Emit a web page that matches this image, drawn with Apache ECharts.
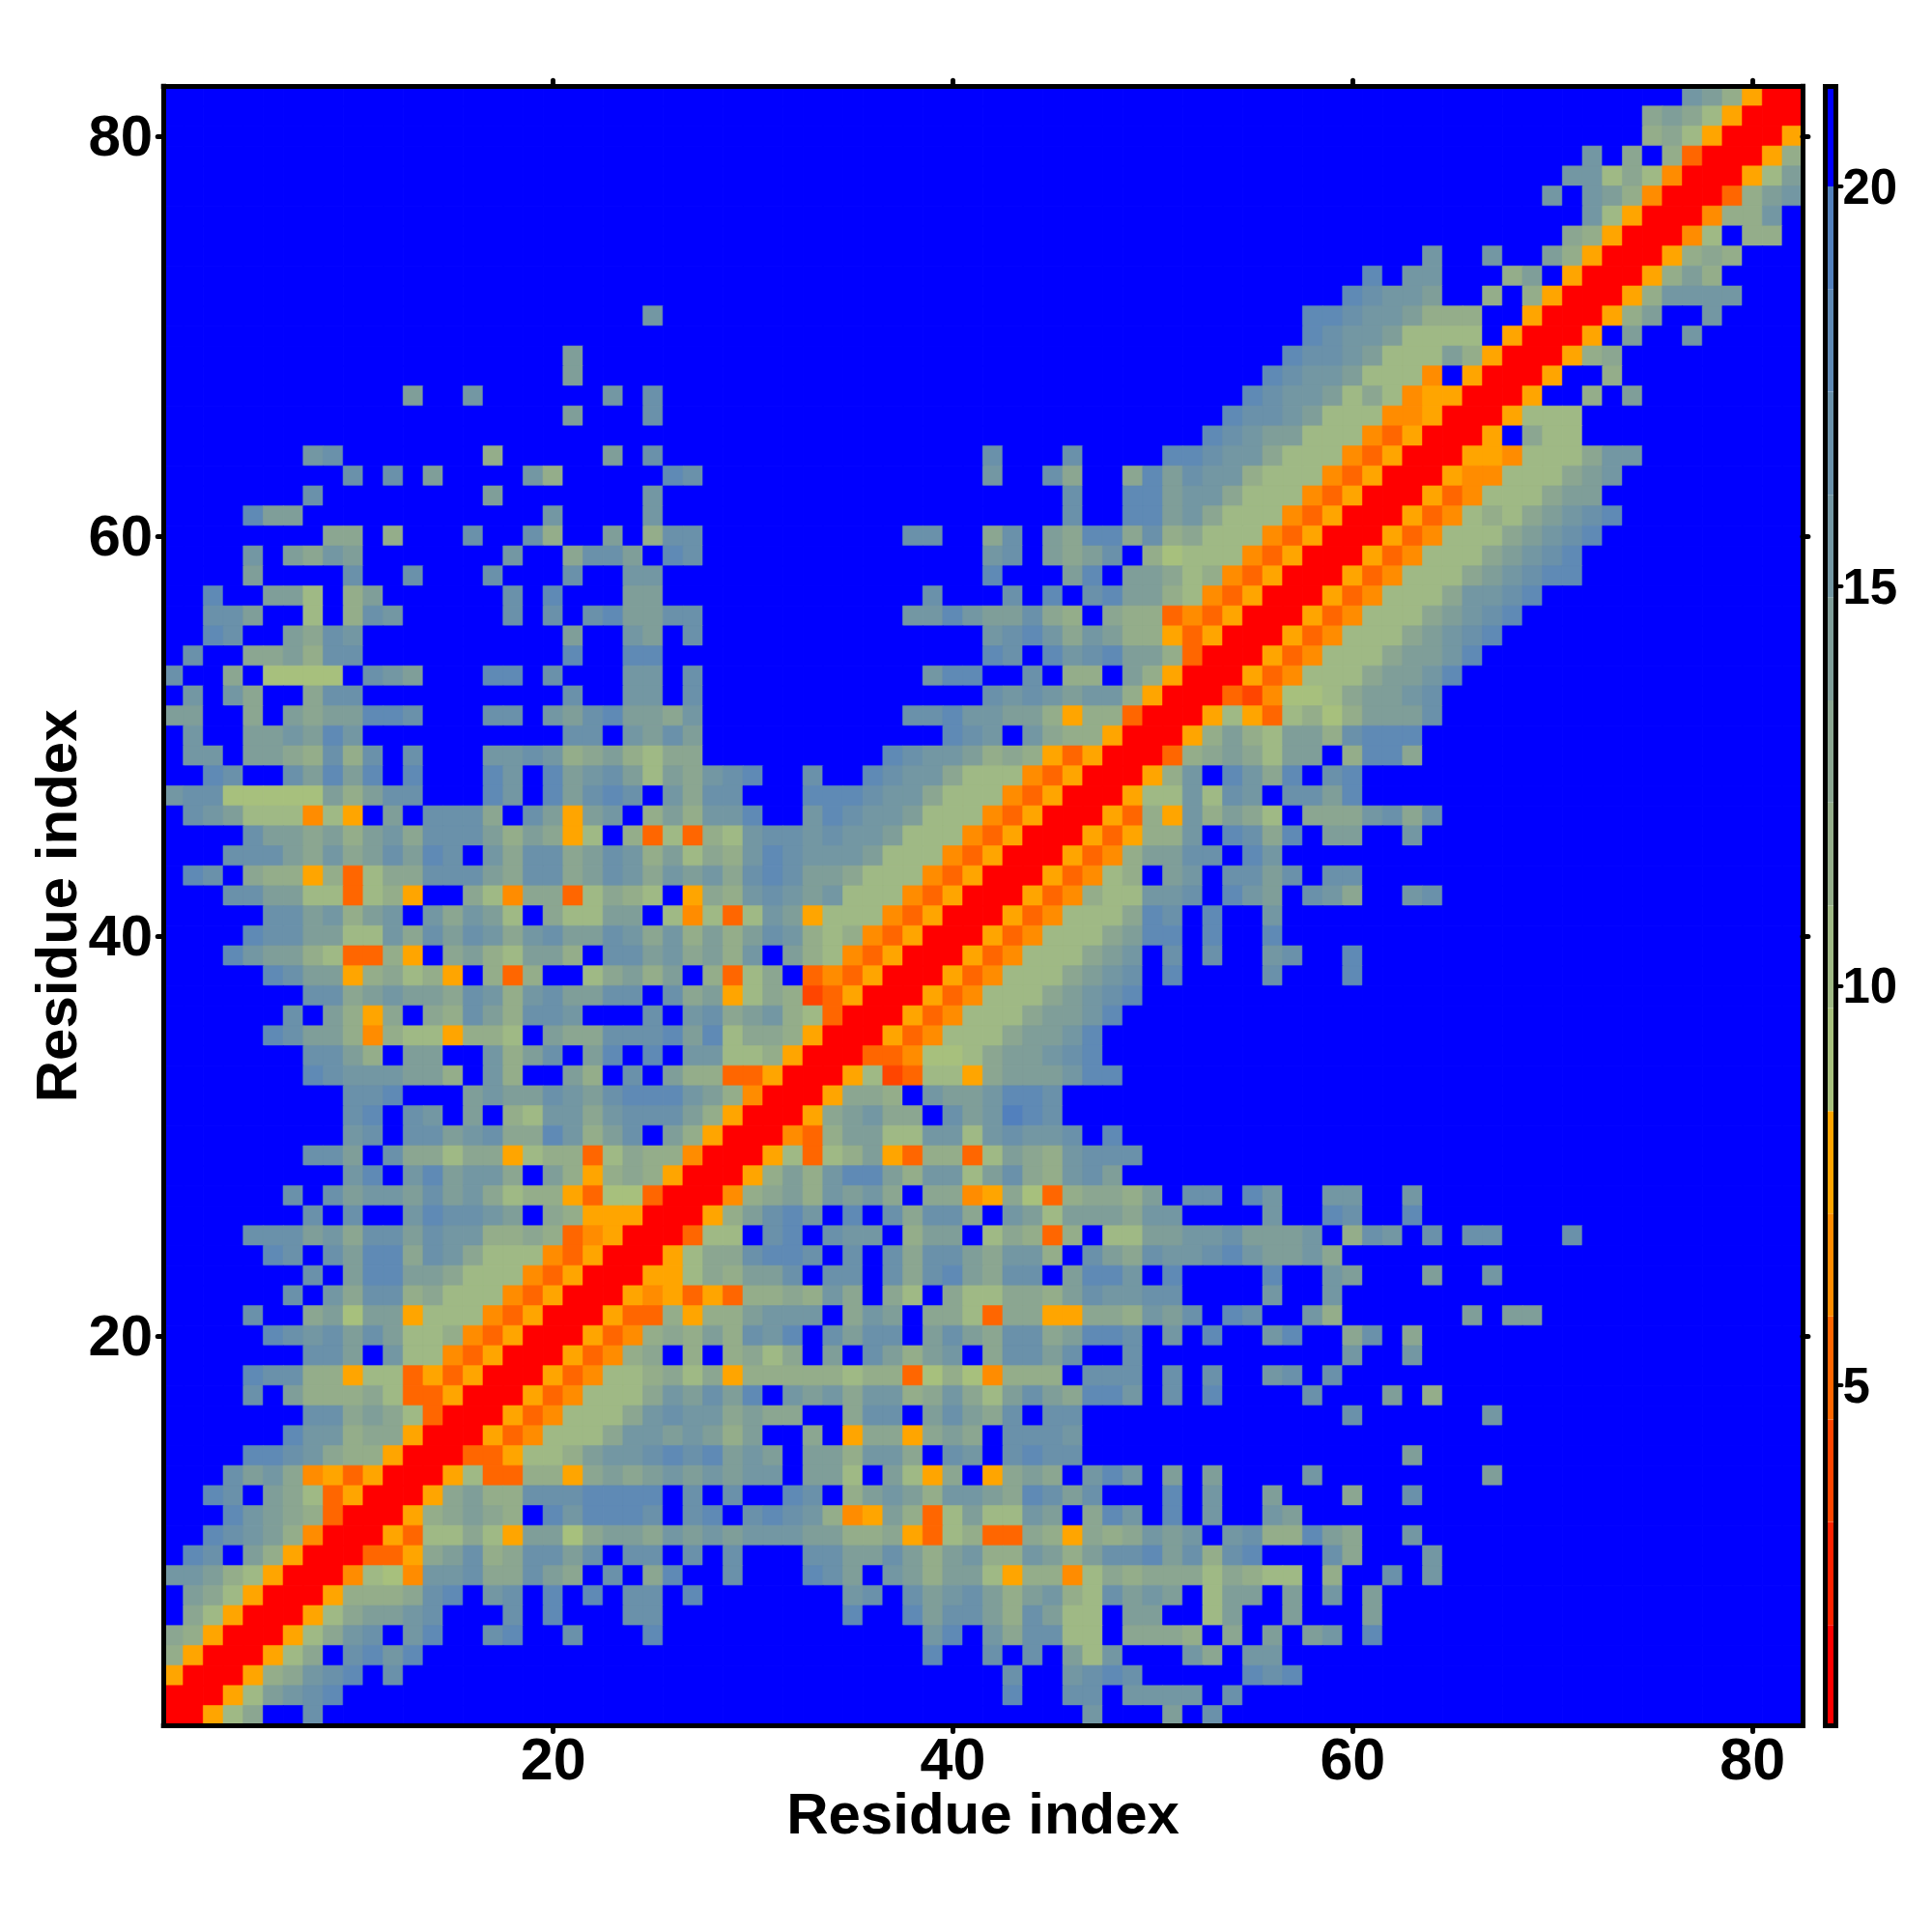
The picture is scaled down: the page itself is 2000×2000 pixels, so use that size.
<!DOCTYPE html>
<html><head><meta charset="utf-8">
<style>html,body{margin:0;padding:0;background:#fff}#c{width:2000px;height:2000px}</style>
<script src="https://cdn.jsdelivr.net/npm/echarts@6/dist/echarts.min.js"></script>
</head><body><div id="c"></div>
<script>
// Distance map: one run-length row per y, from y=82 down to y=1. "start:codes", anything unlisted is the top level.
const rows = [
"77:fec6RR",
"75:dedb6RRR",
"75:cdb6RRR6",
"72:f 74:d 76:c4RRR6c",
"71:ffbdb5RRR6be",
"70:f 72:fec5RRR4cef",
"72:fb6RRR5ccf",
"71:dc6RRR5b 80:cc",
"64:f 67:f 70:ec6RRR6cdc",
"61:h 63:ff 68:ce 71:6RRR6cec",
"60:hgffe 67:c 69:c6RRR6cffff",
"25:f 58:hhgffeccc 69:6RRR6ce 78:f",
"58:hgffebbbb 68:6RRR6 74:e 77:f",
"21:e 57:hggfebbbec6RRR6cd",
"21:e 56:hgffebbb5 66:6RRR6 73:c",
"13:e 16:f 23:f 25:g 55:hgffebdb566RRR6 72:c 74:e",
"21:e 25:g 54:hggfebbb556RRR6bbb",
"53:hgfeebbb546RRR6 69:dbb",
"8:fg 17:c 23:e 25:g 42:g 46:g 51:hhgffdbbb546RRR665bbbdff",
"10:g 12:g 14:e 19:fc 26:hg 42:f 45:gd 49:dhegffcbbb546RRR655bbbdef",
"8:g 17:e 25:f 46:g 49:hheffdbbb546RRR645bbbdee",
"5:hee 20:f 25:f 46:g 49:hhefdbbb546RRR645bcbdefgh",
"9:dd 12:c 16:g 19:gc 23:e 25:cgg 38:gg 42:dg 45:edhhdgcdbbb546RRR645bbbdefgh",
"5:f 7:edfe 18:f 21:dgge 26:hg 42:fg 45:edeg 50:cabbb546RRR645bbbdefgh",
"5:e 10:g 13:g 17:g 21:g 24:ff 42:h 46:eh 49:eedbc546RRR645bbbdefghh",
"3:h 6:eeb 10:ce 18:g 20:h 24:ee 39:g 43:g 45:h 47:gheecb546RRR645bbbdffgh",
"3:gge 8:b 10:cgf 18:g 20:g 22:ghee 26:gg 38:ffhfeegdc 48:dcc4546RRR645bbbdefgh",
"3:hg 7:edgf 21:e 24:fe 27:g 42:fghfdfecc646RRR645bbbdefgh",
"2:g 5:ddec 9:gg 21:h 24:hh 42:hg 45:hfgheec4RRR645bbbdeefh",
"1:g 4:d 6:aaaa 11:gfe 17:hh 20:g 24:ff 27:g 39:fhh 44:g 46:cc 49:ec6RRR645bbbdeefh",
"2:f 4:fd 8:dgg 21:g 24:ff 27:g 42:gfgfeffc6RRR435aabdeefg",
"1:ee 5:d 7:edee 11:hhg 17:gg 20:fegheedf 38:gghffeec6cc4RRR6b64bcaceeeg",
"2:f 5:eefehf 21:gg 24:fege 40:hgf 44:fdcc6RRR6cecbeecghhh",
"2:ff 5:eedcgcg 13:g 17:ffgfcdecbdd 37:hgffecdc646RRR4cdedbee 60:chhd",
"3:hg 7:geheh 13:h 17:hf 20:hefgebedfgh 33:g 36:hgffdbbb546RRR6cf 54:hfdh 59:gh",
"1:fggaaaaaecegg 17:hf 20:hegh 24:g 26:fdgg 33:hhhgffdbbb546RRR6bbfbgf 57:ggeh",
"2:gfebbb5b6 12:e 14:gggd 19:ge6ef 25:cecffh 33:fhgffebbb546RRR64c6fcedb 58:dddfgdg",
"5:geedecefdgggeced6b 24:c4b4cbfggfgffebbb546RRR646ccf 54:hgdh 59:ee 63:f",
"4:gggedfdegehg 17:fdggdegfcebdcfhgfffebbb546RRR645ceegg 55:hf",
"2:hg 5:dcc6c4bddgggedggdegfdfefdghgeedbbb546RRR645bc 51:ef 54:ggeg 59:gg",
"4:ggeebb4bc6 16:db5dd4bdcb 27:6dcfgfefbbb546RRR645cbbffg 54:hfe 58:gfd 63:fg",
"6:ggefcef 14:fdfeb 20:dbbee 26:b5b4bfe6bbb546RRR645bbbdhg 53:h 56:f",
"5:hggeebbfdgegfdfgeegfdfcecegfcbc546RRR645bbbdehh 53:h 56:h",
"4:hfeecb44c6 15:decbeec 23:ggefdecf 32:ecb546RRR645bbbdef 51:g 53:g 56:fg 60:h",
"6:hgee6cdbc6 17:c4c 22:bdece 28:c4bd 33:4546RRR645bbbdefg 51:h 56:g 60:h",
"8:ggdefeedgfcfgeegg 26:gde6bdc346RRR645bbbdefgh",
"7:g 9:ec6d 14:dcgecggf 25:g 27:fgdefcb4RRR645bbbdeefh",
"6:hgeec5cbb6ccb 20:eddggghehbddc6RRR645bbbdeefh",
"8:ggec 13:ee 17:fceg 22:eh 25:h 27:ffbbc6RRR445aabdeefgh",
"8:hgfffeec 17:fc 21:ec 24:g 26:ecc446RRR6b34bb6deeefhh",
"10:ggh 16:efeegfeghhhfec5RRR6ddc 39:feefhhg",
"10:gh 13:gf 16:e 18:cbffdfgggec6RRR6defdd 40:gefihg",
"10:fg 13:ggefgddhfceg 26:ec6RRR54ceebbffbfgffg 48:h",
"8:gge 12:gddbdd6bcc4bdcc5RRR6b4bce64cc4bedcfggg",
"10:fh 13:fheffd 20:ec6cdc6RRR6cecfhhecffbegdcfge",
"7:g 9:geffegefdbcc64aa4RRR5cdecfefd 39:dd56da4cddce 52:gg 55:hf 59:ff 63:f",
"8:g 10:g 13:fhggfe 20:dc666RRR6ceghf 35:h 37:gdggd 43:febeeedff 56:f 59:hg 63:h",
"5:gggefdggegffccdc456RRR4bb 31:gh 34:gff 38:cee 42:bdc4c 48:bbeeffgeeef 60:cgf 64:g 66:gg 71:g",
"6:hg 9:gehhdgfdbbb546RRR6bddghhg 35:g 37:gdggedffc 47:gedgffghfeefd",
"8:g 10:ehheedbbb546RRR66bdceeg 34:gg 37:gdghedgg 46:ehhf 51:h 56:h 59:fe 64:e 67:f",
"7:g 9:fdggcdbbb546RRR656464ccdcfd 37:db 40:dbbddcegffgg 56:f 59:f",
"5:g 8:deaee6bbb546RRR644c6ccefff 35:dfe 39:ddb4dd66ddcfeg 54:hg 58:fc 66:e 68:ee",
"6:hgfgegebbc546RRR645cdcecgfh 34:gegg 39:egedggdehhg 51:f 53:h 56:fh 60:dg 63:d",
"8:gge 12:fbb546RRR645cd 27:c 29:cdbd 34:e 36:gecef 42:dggeg 49:g 60:f 63:f",
"5:hggcc6bb4646RRR645bbcdbd6cccccbcc4aca5ccc 47:ggg 51:g 53:g 56:fg 59:g",
"5:g 7:ecccdb446RRR645bbbdfegeh 32:fefdffcdfdbegedhhf 51:g 53:h 58:g 62:e 64:c",
"8:ggdedb4RRR645bbbdfgffdedd 35:dgg 39:egedg 45:gg 60:g 67:f",
"7:hffcdd6RRR645bbbdffefece 33:d 35:6dd6ded 43:gggf",
"5:hhgfdcc6RRR446bbceffghghefe 33:eecffd 40:gf 43:ghgg 63:e",
"4:gefd5646RRR6b44cc6dedefefeff 33:eeb 37:eb6d 42:6ded 47:fhf 51:e 53:e 58:f 67:e",
"3:hg 6:edb46RRR6deccggghhhh 27:g 29:g 32:hg 35:cefecffedhgeg 51:h 53:f 56:e 60:d 63:g",
"4:hfedc4RRR6cdedc 20:hfhhhg 27:gh 30:ghgfc56ec4bebbfe 47:dhf 51:h 53:f 56:fe",
"3:hgfec5RRR64bbdb6eeadeedfefefffeeccd64bc44dc6dcdfef 54:fgcched 63:f",
"2:hg 5:ec6RRR446degcdggeg 24:gg 27:g 29:g 33:ggeegecefccfecegghegcgh 59:gd 64:f",
"1:ffecb6RRR5ba5ffgddged 23:g 25:dh 29:g 33:hge 37:feceeb6cc5bdcdddbdcbb 59:c 62:g 64:f",
"2:edb6RRR6cccdgh 17:fg 20:h 22:h 24:gg 27:h 35:fg 38:gefgecefcbgefe 53:bee 57:e 59:f 61:e",
"2:db6RRR6bdeefg 18:g 20:h 24:gg 35:h 38:heggecgebb 49:ee 53:be 57:e 61:e",
"1:dc6RRR6bdfg 13:fh 17:gh 21:g 25:h 39:fh 42:fdggbb 49:dddc 54:d 56:e 58:ef 61:h",
"1:c6RRR6bd 10:ghfh 39:h 42:g 44:g 46:ebf 52:fd 55:ff",
"1:6RRR6cdfgh 12:g 43:g 46:fghg 55:hgh",
"1:RRR6befgh 43:h 46:gg 49:ffff 54:g",
"1:RR6bd 8:g 47:f 51:e 53:g"
];
const levelCodes  = ["R","2","3","4","5","6","a","b","c","d","e","f","g","h","i","."];
const levelEdges  = [0.74,2,3.29,4.57,5.86,7.15,8.43,9.72,11,12.29,13.57,14.86,16.14,17.43,18.71,20,21.25];
const levelColors = ["#ff0000","#ff2200","#ff4500","#ff6600","#ff8c00","#ffa500","#a7c07d","#9fb985","#94ad8a","#8ba691","#7f9e99","#7397a3","#6a91aa","#5f8ab5","#5280bd","#0000ff"];
const residues = Array.from({length:82},(_,i)=>String(i+1));
const mainTicks = ["20","40","60","80"];
const barTicks  = [5,10,15,20];

const FONT = '"Liberation Sans", Arial, sans-serif';
const mid = k => (levelEdges[k]+levelEdges[k+1])/2;

const cells = [];
rows.forEach((row,r)=>{
  const y = 82-r;
  const line = new Array(82).fill(15);
  row.split(" ").forEach(seg=>{
    const [start,codes] = seg.split(":");
    [...codes].forEach((c,j)=>{ line[+start-1+j] = levelCodes.indexOf(c); });
  });
  // a hairline border in the cell's own colour closes the anti-aliased seams between cells
  line.forEach((k,x)=>cells.push({value:[x,y-1,mid(k)],itemStyle:{borderColor:levelColors[k],borderWidth:0.6}}));
});
const barData = levelColors.map((c,k)=>[levelEdges[k],levelEdges[k+1],k]);

const onTick = (i,v)=>mainTicks.includes(String(v));
const edge = {onZero:false,lineStyle:{color:"#000",width:5,cap:"square"}};
const tick = {show:true,alignWithLabel:true,interval:onTick,length:6,lineStyle:{color:"#000",width:5,cap:"round"}};
const tickLabel = {fontFamily:FONT,fontWeight:"bold",color:"#000",interval:onTick};
const title = {fontFamily:FONT,fontWeight:"bold",fontSize:60,color:"#000"};

const chart = echarts.init(document.getElementById("c"),null,{renderer:"canvas"});
chart.setOption({
  animation:false,
  backgroundColor:"#fff",
  grid:[
    {left:169.2,top:89.25,width:1696.7,height:1697.2,containLabel:false,outerBoundsMode:"none"},
    {left:1889.5,top:89.5,width:11,height:1697,containLabel:false,outerBoundsMode:"none"}
  ],
  xAxis:[
    {type:"category",gridIndex:0,data:residues,position:"bottom",z:10,axisLine:edge,axisTick:tick,
     axisLabel:{...tickLabel,fontSize:61,margin:8},splitLine:{show:false},
     name:"Residue index",nameLocation:"middle",nameGap:65,nameMoveOverlap:false,nameTextStyle:title},
    {type:"category",gridIndex:0,data:residues,position:"top",z:10,axisLine:edge,axisTick:tick,axisLabel:{show:false},splitLine:{show:false}},
    {type:"value",gridIndex:1,min:0,max:1,position:"bottom",z:10,axisLine:edge,axisTick:{show:false},axisLabel:{show:false},splitLine:{show:false}},
    {type:"value",gridIndex:1,min:0,max:1,position:"top",z:10,axisLine:edge,axisTick:{show:false},axisLabel:{show:false},splitLine:{show:false}}
  ],
  yAxis:[
    {type:"category",gridIndex:0,data:residues,position:"left",z:10,axisLine:edge,axisTick:tick,
     axisLabel:{...tickLabel,fontSize:60,margin:11,verticalAlign:"top",lineHeight:7},splitLine:{show:false},
     name:"Residue index",nameLocation:"middle",nameGap:77,nameRotate:90,nameMoveOverlap:false,nameTextStyle:title},
    {type:"category",gridIndex:0,data:residues,position:"right",z:10,axisLine:edge,axisTick:tick,axisLabel:{show:false},splitLine:{show:false}},
    {type:"value",gridIndex:1,min:levelEdges[0],max:levelEdges[16],position:"left",z:10,axisLine:edge,axisTick:{show:false},axisLabel:{show:false},splitLine:{show:false}},
    {type:"value",gridIndex:1,min:levelEdges[0],max:levelEdges[16],position:"right",z:10,axisLine:edge,
     axisTick:{show:true,customValues:barTicks,length:6,lineStyle:{color:"#000",width:4,cap:"round"}},
     axisLabel:{show:true,customValues:barTicks,fontFamily:FONT,fontWeight:"bold",fontSize:51,color:"#000",margin:7,verticalAlign:"top",lineHeight:8},
     splitLine:{show:false}}
  ],
  visualMap:{show:false,type:"piecewise",seriesIndex:0,dimension:2,
    pieces:levelColors.map((c,k)=>({gte:levelEdges[k],lt:levelEdges[k+1],color:c}))},
  series:[
    {type:"heatmap",xAxisIndex:0,yAxisIndex:0,data:cells,progressive:0,silent:true,emphasis:{disabled:true}},
    {type:"custom",xAxisIndex:2,yAxisIndex:3,data:barData,silent:true,clip:false,
     encode:{y:[0,1]},
     renderItem:(params,api)=>{
       const a = api.coord([0,api.value(0)]);
       const b = api.coord([1,api.value(1)]);
       return {type:"rect",shape:{x:a[0],y:b[1],width:b[0]-a[0],height:a[1]-b[1]},style:{fill:levelColors[api.value(2)]}};
     }}
  ]
});
</script></body></html>
